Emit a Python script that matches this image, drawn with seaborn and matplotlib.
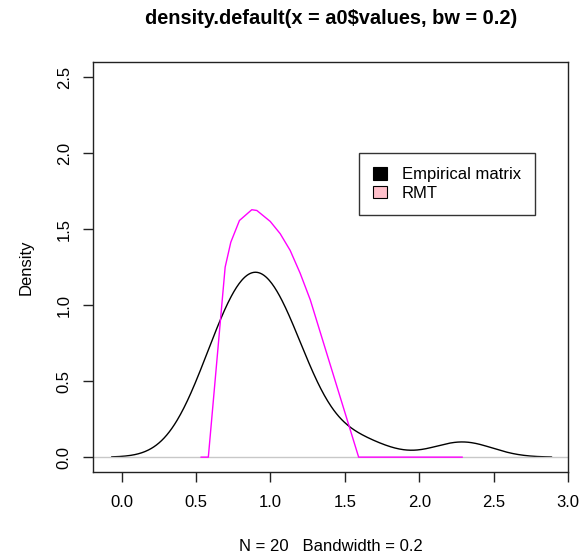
import numpy as np
import pandas as pd
import matplotlib
matplotlib.use("Agg")
import matplotlib.pyplot as plt
from matplotlib.patches import Patch
from matplotlib.ticker import FormatStrFormatter
import seaborn as sns

# eigenvalues of the empirical matrix (estimated from the density curve)
eigenvalues = [0.533, 0.583, 0.66, 0.71, 0.75, 0.79, 0.82, 0.85, 0.88, 0.91,
               0.94, 0.98, 1.02, 1.06, 1.10, 1.13, 1.19, 1.28, 1.60, 2.29]
bandwidth = 0.2

# RMT curve, as drawn (polyline)
rmt_x = [0.533, 0.583, 0.696, 0.734, 0.792, 0.875, 0.909, 0.999, 1.066,
         1.133, 1.200, 1.268, 1.593, 2.290]
rmt_y = [0.0, 0.0, 1.25, 1.414, 1.557, 1.628, 1.623, 1.551, 1.47,
         1.36, 1.21, 1.035, 0.0, 0.0]

x_ticks = [0.0, 0.5, 1.0, 1.5, 2.0, 2.5, 3.0]
y_ticks = [0.0, 0.5, 1.0, 1.5, 2.0, 2.5]
legend_labels = ["Empirical matrix", "RMT"]
legend_colors = ["black", "pink"]

sns.set_style("white")
plt.rcParams["font.family"] = ["Liberation Sans", "DejaVu Sans"]
plt.rcParams["font.size"] = 12
plt.rcParams["text.color"] = "black"
plt.rcParams["axes.labelcolor"] = "black"

fig = plt.figure(figsize=(5.82, 5.57), dpi=100)
ax = fig.add_axes([0.1603, 0.152, 0.8157, 0.7367])

df = pd.DataFrame({"values": eigenvalues})
sns.kdeplot(data=df, x="values", bw_method=bandwidth / np.std(eigenvalues, ddof=1),
            cut=3, gridsize=512, color="black", lw=1.0, ax=ax)
ax.axhline(0, color="#c8c8c8", lw=1.0)
rmt = pd.DataFrame({"x": rmt_x, "y": rmt_y})
sns.lineplot(data=rmt, x="x", y="y", color="#FF00FF", lw=1.0, sort=False,
             estimator=None, ax=ax)

ax.set_xlim(-0.19, 3.0)
ax.set_ylim(-0.1, 2.6)
ax.set_xticks(x_ticks)
ax.set_yticks(y_ticks)
ax.xaxis.set_major_formatter(FormatStrFormatter("%.1f"))
ax.yaxis.set_major_formatter(FormatStrFormatter("%.1f"))
ax.tick_params(axis="both", direction="out", length=7.5, width=1.0,
               color="#222222", labelsize=12, labelcolor="black")
ax.tick_params(axis="x", pad=9, bottom=True)
ax.tick_params(axis="y", pad=8, left=True)
for lab in ax.get_yticklabels():
    lab.set_rotation(90)
    lab.set_va("center")
for side in ["left", "right", "top", "bottom"]:
    ax.spines[side].set_visible(True)
    ax.spines[side].set_color("#222222")
    ax.spines[side].set_linewidth(1.0)

ax.set_title("density.default(x = a0$values, bw = 0.2)", fontsize=14.4,
             fontweight="bold", pad=27, color="black")
ax.set_xlabel("N = 20   Bandwidth = 0.2", fontsize=12)
ax.set_ylabel("Density", fontsize=12)
ax.xaxis.set_label_coords(0.5, -0.162)
ax.yaxis.set_label_coords(-0.125, 0.5)

handles = [Patch(facecolor=c, edgecolor="black", lw=0.8) for c in legend_colors]
leg = ax.legend(handles, legend_labels, loc="upper left",
                bbox_to_anchor=(0.560, 0.779), borderaxespad=0,
                fancybox=False, framealpha=1, edgecolor="#333333",
                handlelength=0.8, handleheight=0.8, handletextpad=0.9,
                borderpad=0.85, labelspacing=0.22, fontsize=12)
leg.get_frame().set_linewidth(1.0)

fig.savefig("out.png", dpi=100)
